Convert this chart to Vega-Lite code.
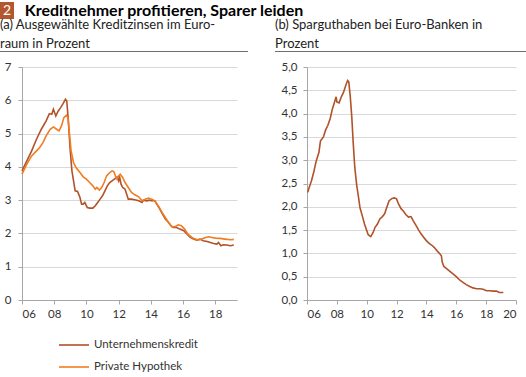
{
  "$schema": "https://vega.github.io/schema/vega-lite/v6.json",
  "padding": {"left": 0, "top": 2, "right": 0, "bottom": 0},
  "config": {
    "font": "Lato",
    "view": {"stroke": null},
    "axis": {
      "domainColor": "#a6a6a6", "tickColor": "#a6a6a6", "gridColor": "#d9d9d9",
      "labelColor": "#333333", "labelFont": "Lato", "labelFontSize": 11.5,
      "tickSize": 4, "title": null
    },
    "line": {"strokeWidth": 1.6}
  },
  "datasets": {
    "zins": [
      {"jahr": 2006.0, "wert": 3.88, "serie": "Unternehmenskredit"},
      {"jahr": 2006.3, "wert": 4.18, "serie": "Unternehmenskredit"},
      {"jahr": 2006.6, "wert": 4.48, "serie": "Unternehmenskredit"},
      {"jahr": 2006.9, "wert": 4.83, "serie": "Unternehmenskredit"},
      {"jahr": 2007.2, "wert": 5.13, "serie": "Unternehmenskredit"},
      {"jahr": 2007.5, "wert": 5.38, "serie": "Unternehmenskredit"},
      {"jahr": 2007.7, "wert": 5.6, "serie": "Unternehmenskredit"},
      {"jahr": 2007.85, "wert": 5.58, "serie": "Unternehmenskredit"},
      {"jahr": 2007.95, "wert": 5.73, "serie": "Unternehmenskredit"},
      {"jahr": 2008.1, "wert": 5.53, "serie": "Unternehmenskredit"},
      {"jahr": 2008.25, "wert": 5.68, "serie": "Unternehmenskredit"},
      {"jahr": 2008.4, "wert": 5.78, "serie": "Unternehmenskredit"},
      {"jahr": 2008.55, "wert": 5.9, "serie": "Unternehmenskredit"},
      {"jahr": 2008.7, "wert": 6.03, "serie": "Unternehmenskredit"},
      {"jahr": 2008.78, "wert": 5.98, "serie": "Unternehmenskredit"},
      {"jahr": 2008.88, "wert": 5.38, "serie": "Unternehmenskredit"},
      {"jahr": 2008.98, "wert": 4.58, "serie": "Unternehmenskredit"},
      {"jahr": 2009.1, "wert": 3.88, "serie": "Unternehmenskredit"},
      {"jahr": 2009.2, "wert": 3.58, "serie": "Unternehmenskredit"},
      {"jahr": 2009.3, "wert": 3.28, "serie": "Unternehmenskredit"},
      {"jahr": 2009.45, "wert": 3.26, "serie": "Unternehmenskredit"},
      {"jahr": 2009.6, "wert": 3.08, "serie": "Unternehmenskredit"},
      {"jahr": 2009.7, "wert": 2.88, "serie": "Unternehmenskredit"},
      {"jahr": 2009.8, "wert": 2.88, "serie": "Unternehmenskredit"},
      {"jahr": 2009.9, "wert": 2.93, "serie": "Unternehmenskredit"},
      {"jahr": 2010.05, "wert": 2.78, "serie": "Unternehmenskredit"},
      {"jahr": 2010.2, "wert": 2.76, "serie": "Unternehmenskredit"},
      {"jahr": 2010.4, "wert": 2.76, "serie": "Unternehmenskredit"},
      {"jahr": 2010.55, "wert": 2.83, "serie": "Unternehmenskredit"},
      {"jahr": 2010.7, "wert": 2.93, "serie": "Unternehmenskredit"},
      {"jahr": 2010.85, "wert": 3.03, "serie": "Unternehmenskredit"},
      {"jahr": 2011.0, "wert": 3.13, "serie": "Unternehmenskredit"},
      {"jahr": 2011.15, "wert": 3.28, "serie": "Unternehmenskredit"},
      {"jahr": 2011.3, "wert": 3.43, "serie": "Unternehmenskredit"},
      {"jahr": 2011.45, "wert": 3.53, "serie": "Unternehmenskredit"},
      {"jahr": 2011.65, "wert": 3.6, "serie": "Unternehmenskredit"},
      {"jahr": 2011.8, "wert": 3.65, "serie": "Unternehmenskredit"},
      {"jahr": 2011.9, "wert": 3.7, "serie": "Unternehmenskredit"},
      {"jahr": 2012.0, "wert": 3.58, "serie": "Unternehmenskredit"},
      {"jahr": 2012.05, "wert": 3.73, "serie": "Unternehmenskredit"},
      {"jahr": 2012.15, "wert": 3.48, "serie": "Unternehmenskredit"},
      {"jahr": 2012.25, "wert": 3.38, "serie": "Unternehmenskredit"},
      {"jahr": 2012.4, "wert": 3.33, "serie": "Unternehmenskredit"},
      {"jahr": 2012.5, "wert": 3.18, "serie": "Unternehmenskredit"},
      {"jahr": 2012.6, "wert": 3.03, "serie": "Unternehmenskredit"},
      {"jahr": 2012.8, "wert": 3.03, "serie": "Unternehmenskredit"},
      {"jahr": 2013.0, "wert": 3.01, "serie": "Unternehmenskredit"},
      {"jahr": 2013.25, "wert": 2.98, "serie": "Unternehmenskredit"},
      {"jahr": 2013.45, "wert": 2.93, "serie": "Unternehmenskredit"},
      {"jahr": 2013.55, "wert": 3.0, "serie": "Unternehmenskredit"},
      {"jahr": 2013.75, "wert": 2.98, "serie": "Unternehmenskredit"},
      {"jahr": 2013.9, "wert": 3.0, "serie": "Unternehmenskredit"},
      {"jahr": 2014.05, "wert": 2.98, "serie": "Unternehmenskredit"},
      {"jahr": 2014.25, "wert": 2.98, "serie": "Unternehmenskredit"},
      {"jahr": 2014.5, "wert": 2.78, "serie": "Unternehmenskredit"},
      {"jahr": 2014.7, "wert": 2.6, "serie": "Unternehmenskredit"},
      {"jahr": 2014.9, "wert": 2.43, "serie": "Unternehmenskredit"},
      {"jahr": 2015.1, "wert": 2.33, "serie": "Unternehmenskredit"},
      {"jahr": 2015.25, "wert": 2.23, "serie": "Unternehmenskredit"},
      {"jahr": 2015.4, "wert": 2.18, "serie": "Unternehmenskredit"},
      {"jahr": 2015.6, "wert": 2.18, "serie": "Unternehmenskredit"},
      {"jahr": 2015.8, "wert": 2.13, "serie": "Unternehmenskredit"},
      {"jahr": 2016.05, "wert": 2.08, "serie": "Unternehmenskredit"},
      {"jahr": 2016.25, "wert": 1.98, "serie": "Unternehmenskredit"},
      {"jahr": 2016.45, "wert": 1.88, "serie": "Unternehmenskredit"},
      {"jahr": 2016.65, "wert": 1.83, "serie": "Unternehmenskredit"},
      {"jahr": 2016.85, "wert": 1.8, "serie": "Unternehmenskredit"},
      {"jahr": 2017.05, "wert": 1.83, "serie": "Unternehmenskredit"},
      {"jahr": 2017.25, "wert": 1.78, "serie": "Unternehmenskredit"},
      {"jahr": 2017.5, "wert": 1.76, "serie": "Unternehmenskredit"},
      {"jahr": 2017.7, "wert": 1.73, "serie": "Unternehmenskredit"},
      {"jahr": 2017.9, "wert": 1.7, "serie": "Unternehmenskredit"},
      {"jahr": 2018.1, "wert": 1.68, "serie": "Unternehmenskredit"},
      {"jahr": 2018.2, "wert": 1.73, "serie": "Unternehmenskredit"},
      {"jahr": 2018.35, "wert": 1.63, "serie": "Unternehmenskredit"},
      {"jahr": 2018.5, "wert": 1.66, "serie": "Unternehmenskredit"},
      {"jahr": 2018.7, "wert": 1.65, "serie": "Unternehmenskredit"},
      {"jahr": 2018.95, "wert": 1.63, "serie": "Unternehmenskredit"},
      {"jahr": 2019.15, "wert": 1.65, "serie": "Unternehmenskredit"},
      {"jahr": 2006.0, "wert": 3.78, "serie": "Private Hypothek"},
      {"jahr": 2006.3, "wert": 4.08, "serie": "Private Hypothek"},
      {"jahr": 2006.6, "wert": 4.33, "serie": "Private Hypothek"},
      {"jahr": 2006.9, "wert": 4.48, "serie": "Private Hypothek"},
      {"jahr": 2007.1, "wert": 4.58, "serie": "Private Hypothek"},
      {"jahr": 2007.3, "wert": 4.73, "serie": "Private Hypothek"},
      {"jahr": 2007.5, "wert": 4.93, "serie": "Private Hypothek"},
      {"jahr": 2007.75, "wert": 5.13, "serie": "Private Hypothek"},
      {"jahr": 2007.95, "wert": 5.2, "serie": "Private Hypothek"},
      {"jahr": 2008.15, "wert": 5.13, "serie": "Private Hypothek"},
      {"jahr": 2008.3, "wert": 5.08, "serie": "Private Hypothek"},
      {"jahr": 2008.45, "wert": 5.23, "serie": "Private Hypothek"},
      {"jahr": 2008.6, "wert": 5.48, "serie": "Private Hypothek"},
      {"jahr": 2008.75, "wert": 5.55, "serie": "Private Hypothek"},
      {"jahr": 2008.85, "wert": 5.48, "serie": "Private Hypothek"},
      {"jahr": 2008.95, "wert": 4.98, "serie": "Private Hypothek"},
      {"jahr": 2009.05, "wert": 4.48, "serie": "Private Hypothek"},
      {"jahr": 2009.2, "wert": 4.13, "serie": "Private Hypothek"},
      {"jahr": 2009.35, "wert": 3.98, "serie": "Private Hypothek"},
      {"jahr": 2009.6, "wert": 3.83, "serie": "Private Hypothek"},
      {"jahr": 2009.8, "wert": 3.7, "serie": "Private Hypothek"},
      {"jahr": 2010.0, "wert": 3.63, "serie": "Private Hypothek"},
      {"jahr": 2010.2, "wert": 3.53, "serie": "Private Hypothek"},
      {"jahr": 2010.4, "wert": 3.43, "serie": "Private Hypothek"},
      {"jahr": 2010.55, "wert": 3.33, "serie": "Private Hypothek"},
      {"jahr": 2010.65, "wert": 3.38, "serie": "Private Hypothek"},
      {"jahr": 2010.8, "wert": 3.3, "serie": "Private Hypothek"},
      {"jahr": 2010.95, "wert": 3.38, "serie": "Private Hypothek"},
      {"jahr": 2011.1, "wert": 3.53, "serie": "Private Hypothek"},
      {"jahr": 2011.25, "wert": 3.73, "serie": "Private Hypothek"},
      {"jahr": 2011.45, "wert": 3.83, "serie": "Private Hypothek"},
      {"jahr": 2011.6, "wert": 3.88, "serie": "Private Hypothek"},
      {"jahr": 2011.7, "wert": 3.86, "serie": "Private Hypothek"},
      {"jahr": 2011.8, "wert": 3.73, "serie": "Private Hypothek"},
      {"jahr": 2011.9, "wert": 3.63, "serie": "Private Hypothek"},
      {"jahr": 2012.0, "wert": 3.73, "serie": "Private Hypothek"},
      {"jahr": 2012.1, "wert": 3.78, "serie": "Private Hypothek"},
      {"jahr": 2012.25, "wert": 3.68, "serie": "Private Hypothek"},
      {"jahr": 2012.4, "wert": 3.53, "serie": "Private Hypothek"},
      {"jahr": 2012.6, "wert": 3.38, "serie": "Private Hypothek"},
      {"jahr": 2012.8, "wert": 3.23, "serie": "Private Hypothek"},
      {"jahr": 2013.0, "wert": 3.16, "serie": "Private Hypothek"},
      {"jahr": 2013.25, "wert": 3.1, "serie": "Private Hypothek"},
      {"jahr": 2013.45, "wert": 2.98, "serie": "Private Hypothek"},
      {"jahr": 2013.65, "wert": 3.03, "serie": "Private Hypothek"},
      {"jahr": 2013.85, "wert": 3.06, "serie": "Private Hypothek"},
      {"jahr": 2014.05, "wert": 3.03, "serie": "Private Hypothek"},
      {"jahr": 2014.25, "wert": 2.98, "serie": "Private Hypothek"},
      {"jahr": 2014.5, "wert": 2.8, "serie": "Private Hypothek"},
      {"jahr": 2014.7, "wert": 2.63, "serie": "Private Hypothek"},
      {"jahr": 2014.9, "wert": 2.48, "serie": "Private Hypothek"},
      {"jahr": 2015.1, "wert": 2.33, "serie": "Private Hypothek"},
      {"jahr": 2015.3, "wert": 2.2, "serie": "Private Hypothek"},
      {"jahr": 2015.5, "wert": 2.2, "serie": "Private Hypothek"},
      {"jahr": 2015.7, "wert": 2.26, "serie": "Private Hypothek"},
      {"jahr": 2015.9, "wert": 2.23, "serie": "Private Hypothek"},
      {"jahr": 2016.1, "wert": 2.13, "serie": "Private Hypothek"},
      {"jahr": 2016.3, "wert": 1.98, "serie": "Private Hypothek"},
      {"jahr": 2016.55, "wert": 1.88, "serie": "Private Hypothek"},
      {"jahr": 2016.75, "wert": 1.83, "serie": "Private Hypothek"},
      {"jahr": 2016.95, "wert": 1.8, "serie": "Private Hypothek"},
      {"jahr": 2017.15, "wert": 1.83, "serie": "Private Hypothek"},
      {"jahr": 2017.4, "wert": 1.88, "serie": "Private Hypothek"},
      {"jahr": 2017.6, "wert": 1.9, "serie": "Private Hypothek"},
      {"jahr": 2017.8, "wert": 1.88, "serie": "Private Hypothek"},
      {"jahr": 2018.0, "wert": 1.86, "serie": "Private Hypothek"},
      {"jahr": 2018.3, "wert": 1.85, "serie": "Private Hypothek"},
      {"jahr": 2018.6, "wert": 1.83, "serie": "Private Hypothek"},
      {"jahr": 2018.95, "wert": 1.81, "serie": "Private Hypothek"},
      {"jahr": 2019.15, "wert": 1.82, "serie": "Private Hypothek"}
    ],
    "spar": [
      {"jahr": 2006.05, "wert": 2.31}, {"jahr": 2006.15, "wert": 2.42}, {"jahr": 2006.3, "wert": 2.56},
      {"jahr": 2006.45, "wert": 2.74}, {"jahr": 2006.6, "wert": 2.96}, {"jahr": 2006.8, "wert": 3.17},
      {"jahr": 2006.9, "wert": 3.41}, {"jahr": 2007.1, "wert": 3.5}, {"jahr": 2007.25, "wert": 3.65},
      {"jahr": 2007.4, "wert": 3.75}, {"jahr": 2007.55, "wert": 3.89}, {"jahr": 2007.7, "wert": 4.1},
      {"jahr": 2007.8, "wert": 4.2}, {"jahr": 2007.95, "wert": 4.36}, {"jahr": 2008.0, "wert": 4.25},
      {"jahr": 2008.15, "wert": 4.23}, {"jahr": 2008.3, "wert": 4.36}, {"jahr": 2008.45, "wert": 4.46},
      {"jahr": 2008.6, "wert": 4.61}, {"jahr": 2008.72, "wert": 4.71}, {"jahr": 2008.8, "wert": 4.68},
      {"jahr": 2008.9, "wert": 4.36}, {"jahr": 2009.0, "wert": 3.93}, {"jahr": 2009.1, "wert": 3.35},
      {"jahr": 2009.2, "wert": 2.85}, {"jahr": 2009.33, "wert": 2.46}, {"jahr": 2009.45, "wert": 2.21},
      {"jahr": 2009.55, "wert": 1.98}, {"jahr": 2009.7, "wert": 1.81}, {"jahr": 2009.85, "wert": 1.63},
      {"jahr": 2010.0, "wert": 1.49}, {"jahr": 2010.1, "wert": 1.4}, {"jahr": 2010.27, "wert": 1.36},
      {"jahr": 2010.43, "wert": 1.45}, {"jahr": 2010.56, "wert": 1.56}, {"jahr": 2010.72, "wert": 1.63},
      {"jahr": 2010.88, "wert": 1.74}, {"jahr": 2011.05, "wert": 1.79}, {"jahr": 2011.2, "wert": 1.85},
      {"jahr": 2011.35, "wert": 1.99}, {"jahr": 2011.5, "wert": 2.13}, {"jahr": 2011.7, "wert": 2.18},
      {"jahr": 2011.85, "wert": 2.19}, {"jahr": 2012.0, "wert": 2.17}, {"jahr": 2012.13, "wert": 2.06},
      {"jahr": 2012.3, "wert": 1.96}, {"jahr": 2012.45, "wert": 1.91}, {"jahr": 2012.63, "wert": 1.83},
      {"jahr": 2012.8, "wert": 1.78}, {"jahr": 2012.97, "wert": 1.79}, {"jahr": 2013.12, "wert": 1.7},
      {"jahr": 2013.3, "wert": 1.6}, {"jahr": 2013.48, "wert": 1.5}, {"jahr": 2013.64, "wert": 1.42},
      {"jahr": 2013.8, "wert": 1.35}, {"jahr": 2013.98, "wert": 1.28}, {"jahr": 2014.16, "wert": 1.22},
      {"jahr": 2014.34, "wert": 1.18}, {"jahr": 2014.52, "wert": 1.13}, {"jahr": 2014.7, "wert": 1.06},
      {"jahr": 2014.88, "wert": 1.0}, {"jahr": 2015.0, "wert": 0.95}, {"jahr": 2015.06, "wert": 0.81},
      {"jahr": 2015.17, "wert": 0.72}, {"jahr": 2015.33, "wert": 0.68}, {"jahr": 2015.55, "wert": 0.62},
      {"jahr": 2015.78, "wert": 0.56}, {"jahr": 2016.0, "wert": 0.5}, {"jahr": 2016.22, "wert": 0.43},
      {"jahr": 2016.45, "wert": 0.38}, {"jahr": 2016.67, "wert": 0.33}, {"jahr": 2016.9, "wert": 0.29},
      {"jahr": 2017.12, "wert": 0.26}, {"jahr": 2017.35, "wert": 0.24}, {"jahr": 2017.57, "wert": 0.24},
      {"jahr": 2017.8, "wert": 0.23}, {"jahr": 2018.02, "wert": 0.2}, {"jahr": 2018.25, "wert": 0.2},
      {"jahr": 2018.47, "wert": 0.19}, {"jahr": 2018.7, "wert": 0.19}, {"jahr": 2018.88, "wert": 0.16},
      {"jahr": 2019.03, "wert": 0.16}, {"jahr": 2019.15, "wert": 0.16}
    ]
  },
  "bounds": "flush",
  "spacing": 49,
  "vconcat": [
    {
      "bounds": "flush",
      "spacing": 8,
      "hconcat": [
        {
          "width": 14,
          "height": 17,
          "view": {"fill": "#b3582d", "stroke": null},
          "data": {"values": [{"nr": "2"}]},
          "mark": {"type": "text", "color": "#ffffff", "fontSize": 14},
          "encoding": {"text": {"field": "nr"}}
        },
        {
          "width": 284,
          "height": 17,
          "data": {"values": [{"t": "Kreditnehmer profitieren, Sparer leiden"}]},
          "mark": {"type": "text", "color": "#000000", "fontSize": 16, "fontWeight": "bold"},
          "encoding": {"text": {"field": "t"}}
        }
      ]
    },
    {
      "bounds": "flush",
      "spacing": 16,
      "vconcat": [
        {
          "bounds": "flush",
          "spacing": 27,
          "hconcat": [
            {
              "width": 248,
              "height": 1,
              "view": {"fill": "#6e6e6e", "stroke": null},
              "data": {"values": [{"t": ""}]},
              "title": {
                "text": ["(a) Ausgewählte Kreditzinsen im Euro-", "raum in Prozent"],
                "anchor": "start", "fontSize": 13, "fontWeight": "normal", "lineHeight": 18.5,
                "baseline": "alphabetic", "offset": -15, "color": "#222222"
              },
              "mark": {"type": "text"},
              "encoding": {"text": {"field": "t"}}
            },
            {
              "width": 251,
              "height": 1,
              "view": {"fill": "#6e6e6e", "stroke": null},
              "data": {"values": [{"t": ""}]},
              "title": {
                "text": ["(b) Sparguthaben bei Euro-Banken in", "Prozent"],
                "anchor": "start", "fontSize": 13, "fontWeight": "normal", "lineHeight": 18.5,
                "baseline": "alphabetic", "offset": -15, "color": "#222222"
              },
              "mark": {"type": "text"},
              "encoding": {"text": {"field": "t"}}
            }
          ]
        },
        {
          "bounds": "flush",
          "spacing": 20,
          "hconcat": [
            {
              "width": 2,
              "height": 233,
              "data": {"values": [{"t": ""}]},
              "mark": {"type": "text"},
              "encoding": {"text": {"field": "t"}}
            },
            {
              "bounds": "flush",
              "spacing": 70,
              "hconcat": [
                {
                  "width": 215,
                  "height": 233,
                  "data": {"name": "zins"},
                  "mark": {"type": "line"},
                  "encoding": {
                    "x": {
                      "field": "jahr", "type": "quantitative",
                      "scale": {"domain": [2006, 2019.35], "nice": false, "zero": false},
                      "axis": {"values": [2006, 2008, 2010, 2012, 2014, 2016, 2018], "grid": false,
                               "labelExpr": "substring(toString(datum.value), 2)", "labelPadding": 4}
                    },
                    "y": {
                      "field": "wert", "type": "quantitative",
                      "scale": {"domain": [0, 7], "nice": false},
                      "axis": {"values": [0, 1, 2, 3, 4, 5, 6, 7], "grid": true, "labelPadding": 7}
                    },
                    "color": {
                      "field": "serie", "type": "nominal",
                      "scale": {"domain": ["Unternehmenskredit", "Private Hypothek"], "range": ["#b0532b", "#f07d22"]},
                      "legend": {
                        "title": null, "orient": "none", "legendX": 58, "legendY": 327,
                        "direction": "vertical", "symbolType": "stroke", "symbolSize": 900,
                        "symbolStrokeWidth": 2, "labelFontSize": 11.5, "labelColor": "#333333",
                        "labelFont": "Lato", "labelOffset": 4, "rowPadding": -7
                      }
                    }
                  }
                },
                {
                  "width": 209,
                  "height": 233,
                  "data": {"name": "spar"},
                  "mark": {"type": "line", "color": "#b0532b"},
                  "encoding": {
                    "x": {
                      "field": "jahr", "type": "quantitative",
                      "scale": {"domain": [2006, 2020], "nice": false, "zero": false},
                      "axis": {"values": [2006, 2008, 2010, 2012, 2014, 2016, 2018, 2020], "grid": false,
                               "labelExpr": "substring(toString(datum.value), 2)", "labelPadding": 4}
                    },
                    "y": {
                      "field": "wert", "type": "quantitative",
                      "scale": {"domain": [0, 5], "nice": false},
                      "axis": {"values": [0, 0.5, 1, 1.5, 2, 2.5, 3, 3.5, 4, 4.5, 5], "grid": true,
                               "labelExpr": "replace(format(datum.value, '.1f'), '.', ',')",
                               "labelPadding": 6}
                    }
                  }
                }
              ]
            }
          ]
        }
      ]
    }
  ]
}
